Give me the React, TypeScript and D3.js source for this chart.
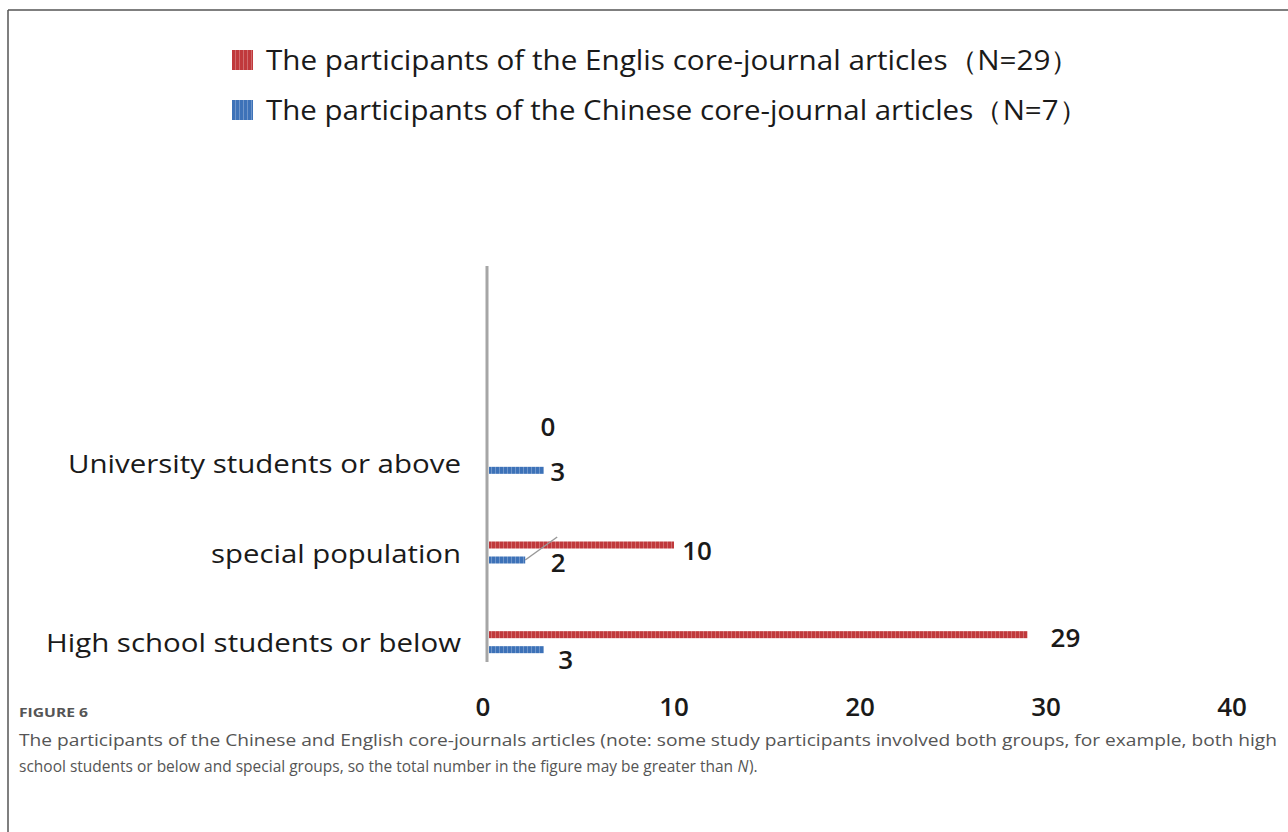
import React, { useEffect, useRef } from "react";
import * as d3 from "d3";

const categories = ["University students or above", "special population", "High school students or below"];
const englishValues = [0, 10, 29];
const chineseValues = [3, 2, 3];
const xTicks = [0, 10, 20, 30, 40];
const legendLabels = [
    "The participants of the Englis core-journal articles（N=29）",
    "The participants of the Chinese core-journal articles（N=7）",
];

const App: React.FC = () => {
    const svgRef = useRef<SVGSVGElement | null>(null);
    const redColor = "#c0393c";
    const blueColor = "#3d72b8";
    const chartFont = "'Open Sans', 'DejaVu Sans', sans-serif";

    useEffect(() => {
        const svg = d3.select(svgRef.current);
        svg.selectAll("*").remove();

        // frame
        svg.append("line").attr("x1", 8).attr("x2", 1288).attr("y1", 10).attr("y2", 10)
            .attr("stroke", "#555").attr("stroke-width", 1.5);
        svg.append("line").attr("x1", 8).attr("x2", 8).attr("y1", 10).attr("y2", 832)
            .attr("stroke", "#555").attr("stroke-width", 1.5);

        // striped fills like the source
        const defs = svg.append("defs");
        [["redStripe", redColor], ["blueStripe", blueColor]].forEach(([id, c]) => {
            const p = defs.append("pattern").attr("id", id).attr("patternUnits", "userSpaceOnUse")
                .attr("width", 4).attr("height", 4);
            p.append("rect").attr("width", 4).attr("height", 4).attr("fill", c);
            p.append("rect").attr("x", 3).attr("width", 1).attr("height", 4).attr("fill", "#fff").attr("opacity", 0.25);
        });

        const x = d3.scaleLinear().domain([0, 40]).range([488, 1232]);
        const y = d3.scaleBand<string>().domain(categories).range([418, 687]);
        const sub = d3.scaleBand<string>().domain(["en", "cn"]).range([-11, 11]).paddingInner(0.533);
        const center = (c: string) => (y(c) || 0) + y.bandwidth() / 2;

        // legend
        const legend = [
            { label: legendLabels[0], fill: "url(#redStripe)" },
            { label: legendLabels[1], fill: "url(#blueStripe)" },
        ];
        legend.forEach((l, i) => {
            const ly = 60 + i * 50;
            svg.append("rect").attr("x", 232).attr("y", ly - 10).attr("width", 21).attr("height", 20)
                .attr("fill", l.fill);
            svg.append("text").attr("x", 266).attr("y", ly + 10).text(l.label)
                .attr("font-family", chartFont).attr("font-size", 27).attr("fill", "#1a1a1a")
                .attr("textLength", i === 0 ? 814 : 822).attr("lengthAdjust", "spacingAndGlyphs");
        });

        // category labels
        const labelWidths = [393, 250, 415];
        categories.forEach((c, i) => {
            svg.append("text").attr("x", 461).attr("y", center(c) + 10).text(c)
                .attr("text-anchor", "end").attr("font-family", chartFont).attr("font-size", 26)
                .attr("fill", "#1a1a1a").attr("textLength", labelWidths[i]).attr("lengthAdjust", "spacingAndGlyphs");
        });

        // bars
        const bars = [
            { key: "en", values: englishValues, fill: "url(#redStripe)" },
            { key: "cn", values: chineseValues, fill: "url(#blueStripe)" },
        ];
        bars.forEach((s) => {
            svg.append("g").selectAll("rect").data(s.values).join("rect")
                .attr("x", x(0) + 1)
                .attr("y", (_, i) => center(categories[i]) + (sub(s.key) || 0))
                .attr("width", (d) => Math.max(0, x(d) - x(0) - 1))
                .attr("height", sub.bandwidth())
                .attr("fill", s.fill);
        });

        // value labels (nudged like the source)
        const nudge: Record<string, [number, number][]> = {
            en: [[60, -28], [23, 6], [38, 3]],
            cn: [[14, 2], [33, 3], [22, 10]],
        };
        const labelLayer = svg.append("g");
        // leader line for the "2" label
        const c2 = center(categories[1]) + (sub("cn") || 0) + sub.bandwidth() / 2;
        labelLayer.append("line").attr("x1", x(chineseValues[1])).attr("y1", c2)
            .attr("x2", x(chineseValues[1]) + 32).attr("y2", c2 - 23)
            .attr("stroke", "#999").attr("stroke-width", 1.5);
        bars.forEach((s) => {
            s.values.forEach((v, i) => {
                const cy = center(categories[i]) + (sub(s.key) || 0) + sub.bandwidth() / 2;
                const [dx, dy] = nudge[s.key][i];
                labelLayer.append("text")
                    .attr("x", x(v) + dx).attr("y", cy + dy + 9)
                    .attr("font-family", chartFont).attr("font-size", 26).attr("font-weight", 600)
                    .attr("fill", "#1a1a1a").attr("text-anchor", "middle").text(v);
            });
        });

        // vertical axis
        svg.append("line").attr("x1", x(0) - 1).attr("x2", x(0) - 1).attr("y1", 266).attr("y2", 662)
            .attr("stroke", "#a6a6a6").attr("stroke-width", 3);

        // x tick labels
        svg.append("g").selectAll("text").data(xTicks).join("text")
            .attr("x", (d) => x(d) - (d === 0 ? 5 : 0)).attr("y", 716)
            .attr("text-anchor", "middle").attr("font-family", chartFont).attr("font-size", 26)
            .attr("font-weight", 600).attr("fill", "#1a1a1a").text((d) => d);

        // caption
        const captionFont = "'Open Sans', Lato, sans-serif";
        svg.append("text").attr("x", 19).attr("y", 717).text("FIGURE 6")
            .attr("font-family", captionFont).attr("font-size", 13).attr("font-weight", 700).attr("fill", "#555")
            .attr("textLength", 69).attr("lengthAdjust", "spacingAndGlyphs");
        svg.append("text").attr("x", 19).attr("y", 746)
            .text("The participants of the Chinese and English core-journals articles (note: some study participants involved both groups, for example, both high")
            .attr("font-family", captionFont).attr("font-size", 16.5).attr("fill", "#555")
            .attr("textLength", 1258).attr("lengthAdjust", "spacingAndGlyphs");
        const cap2 = svg.append("text").attr("x", 19).attr("y", 772)
            .attr("font-family", captionFont).attr("font-size", 15.5).attr("fill", "#555")
            .text("school students or below and special groups, so the total number in the figure may be greater than");
        const w2 = (cap2.node() as SVGTextElement).getComputedTextLength();
        const nText = svg.append("text").attr("x", 19 + w2 + 4.5).attr("y", 772)
            .attr("font-family", captionFont).attr("font-size", 15.5).attr("font-style", "italic")
            .attr("fill", "#555").text("N");
        const wn = (nText.node() as SVGTextElement).getComputedTextLength();
        svg.append("text").attr("x", 19 + w2 + 4.5 + wn + 0.5).attr("y", 772)
            .attr("font-family", captionFont).attr("font-size", 15.5).attr("fill", "#555").text(").");
    }, []);

    return (
        <svg ref={svgRef} width={1288} height={832}
            style={{ position: "absolute", left: 0, top: 0, background: "#fff" }} />
    );
};

export default App;
